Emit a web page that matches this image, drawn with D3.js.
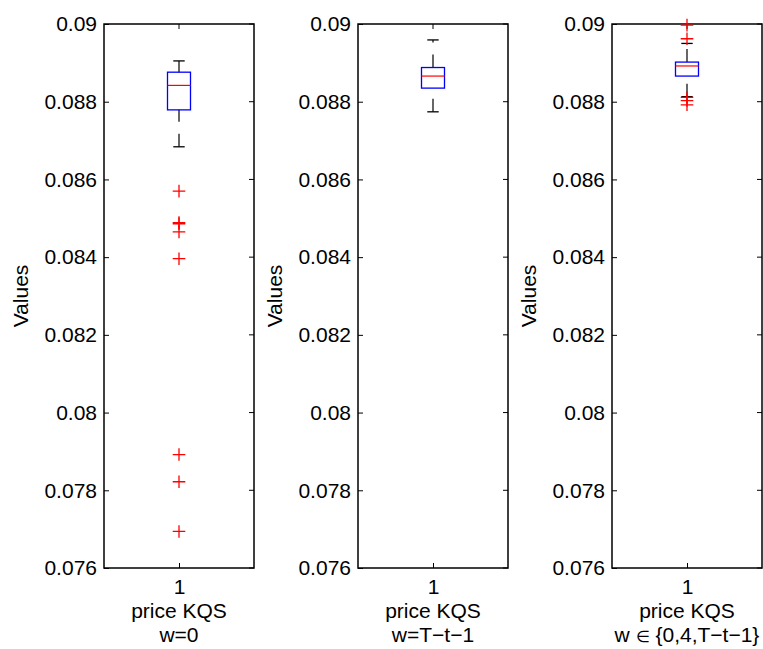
<!DOCTYPE html>
<html>
<head>
<meta charset="utf-8">
<script src="https://cdn.jsdelivr.net/npm/d3@7"></script>
<style>
  body { margin: 0; background: #fff; }
  svg { font-family: "Liberation Sans", Arial, sans-serif; }
</style>
</head>
<body>
<svg id="chart" width="763" height="649"></svg>
<script>
// values
const groupLabels = ["w=0", "w=T\u2212t\u22121", "w \u2208 {0,4,T\u2212t\u22121}"];
const whiskerLow = [0.08684, 0.08774, 0.08813];
const q1 = [0.08779, 0.08835, 0.08866];
const medians = [0.08842, 0.08866, 0.08892];
const q3 = [0.08876, 0.08888, 0.08902];
const whiskerHigh = [0.08905, 0.08959, 0.08950];
const outliers = [
  [0.08570, 0.08489, 0.08486, 0.08465, 0.08396, 0.07892, 0.07822, 0.07694],
  [],
  [0.08997, 0.08962, 0.08811, 0.08803, 0.08792]
];
const yTicks = [0.076, 0.078, 0.08, 0.082, 0.084, 0.086, 0.088, 0.09];

const svg = d3.select("#chart");
const plotTop = 24, plotBottom = 568, panelW = 150;
const lefts = [104, 358, 612];
const boxHalf = 11.5, capHalf = 5.7, plusHalf = 6.3;

const y = d3.scaleLinear().domain([0.076, 0.09]).range([plotBottom, plotTop]);

groupLabels.forEach((label, i) => {
  const left = lefts[i];
  const x = d3.scaleLinear().domain([0.5, 1.5]).range([left, left + panelW]);
  const cx = x(1);
  const g = svg.append("g");

  // y axis, ticks pointing inward
  const yAxis = g.append("g")
    .attr("transform", `translate(${left},0)`)
    .call(d3.axisLeft(y).tickValues(yTicks).tickSize(-5).tickPadding(7)
      .tickFormat(d => String(+d.toFixed(3))));
  yAxis.select(".domain").remove();
  yAxis.selectAll("line").attr("stroke", "#000");
  yAxis.selectAll("text").style("font-size", "21px").attr("fill", "#000");

  // mirrored ticks on the right side
  g.selectAll(".rtick").data(yTicks).join("line")
    .attr("x1", left + panelW).attr("x2", left + panelW - 5)
    .attr("y1", d => y(d)).attr("y2", d => y(d))
    .attr("stroke", "#000");

  // x axis
  const xAxis = g.append("g")
    .attr("transform", `translate(0,${plotBottom})`)
    .call(d3.axisBottom(x).tickValues([1]).tickSize(-5).tickPadding(11).tickFormat(d => d));
  xAxis.select(".domain").remove();
  xAxis.selectAll("line").attr("stroke", "#000");
  xAxis.selectAll("text").style("font-size", "21px").attr("fill", "#000");

  g.append("line")
    .attr("x1", cx).attr("x2", cx).attr("y1", plotTop).attr("y2", plotTop + 5)
    .attr("stroke", "#000");

  // frame
  g.append("rect")
    .attr("x", left).attr("y", plotTop)
    .attr("width", panelW).attr("height", plotBottom - plotTop)
    .attr("fill", "none").attr("stroke", "#000").attr("stroke-width", 1.5);

  // axis labels
  g.append("text")
    .attr("transform", `translate(${left - 76},${(plotTop + plotBottom) / 2}) rotate(-90)`)
    .attr("text-anchor", "middle").style("font-size", "21px")
    .text("Values");
  g.append("text")
    .attr("x", cx).attr("y", 618).attr("text-anchor", "middle")
    .style("font-size", "21px").text("price KQS");
  const sub = g.append("text")
    .attr("x", cx).attr("y", 642).attr("text-anchor", "middle")
    .style("font-size", "21px");
  // the element sign is set smaller in the reference
  label.split(/(\u2208)/).forEach(part => {
    if (!part) return;
    sub.append("tspan")
      .style("font-size", part === "\u2208" ? "16px" : null)
      .text(part);
  });

  // whiskers (dashed), drawn upward in value
  g.append("line")
    .attr("x1", cx).attr("x2", cx)
    .attr("y1", y(whiskerLow[i])).attr("y2", y(q1[i]))
    .attr("stroke", "#000").attr("stroke-width", 1.2).attr("stroke-dasharray", "13,12");
  g.append("line")
    .attr("x1", cx).attr("x2", cx)
    .attr("y1", y(q3[i])).attr("y2", y(whiskerHigh[i]))
    .attr("stroke", "#000").attr("stroke-width", 1.2).attr("stroke-dasharray", "13,12");

  // caps
  [whiskerLow[i], whiskerHigh[i]].forEach(v => {
    g.append("line")
      .attr("x1", cx - capHalf).attr("x2", cx + capHalf)
      .attr("y1", y(v)).attr("y2", y(v))
      .attr("stroke", "#000").attr("stroke-width", 1.3);
  });

  // box
  g.append("rect")
    .attr("x", cx - boxHalf).attr("y", y(q3[i]))
    .attr("width", boxHalf * 2).attr("height", y(q1[i]) - y(q3[i]))
    .attr("fill", "none").attr("stroke", "#0000ff").attr("stroke-width", 1.3);

  // median
  g.append("line")
    .attr("x1", cx - boxHalf).attr("x2", cx + boxHalf)
    .attr("y1", y(medians[i])).attr("y2", y(medians[i]))
    .attr("stroke", "#ff0000").attr("stroke-width", 1.2);

  // outliers
  outliers[i].forEach(v => {
    g.append("path")
      .attr("d", `M${cx - plusHalf},${y(v)}H${cx + plusHalf}M${cx},${y(v) - plusHalf}V${y(v) + plusHalf}`)
      .attr("stroke", "#ff0000").attr("stroke-width", 1.3).attr("fill", "none");
  });
});
</script>
</body>
</html>
